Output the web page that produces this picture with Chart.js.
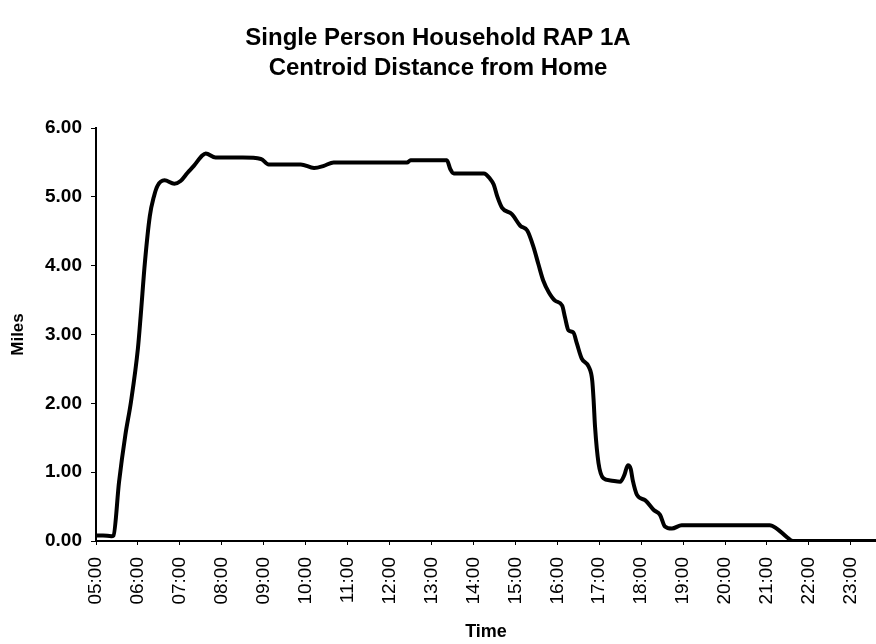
<!DOCTYPE html>
<html>
<head>
<meta charset="utf-8">
<title>Centroid Distance from Home</title>
<script src="https://cdn.jsdelivr.net/npm/chart.js@4.4.1/dist/chart.umd.min.js"></script>
<style>
    html, body { margin: 0; padding: 0; background: #fff; }
    #wrap { width: 876px; height: 644px; }
</style>
</head>
<body>
<div id="wrap"><canvas id="DistanceCanvas"></canvas></div>
<script>
// values (time of day, miles from home)
const times = [
    '05:00', '05:10', '05:22', '05:25', '05:33', '05:42', '05:50', '06:00', '06:04', '06:10',
    '06:17', '06:23', '06:28', '06:38', '06:52', '07:01', '07:11', '07:20', '07:32', '07:37',
    '07:51', '08:30', '08:56', '09:07', '09:53', '10:12', '10:26', '10:40', '12:25', '12:30',
    '13:22', '13:27', '13:32', '14:15', '14:24', '14:29', '14:34', '14:41', '14:55', '15:07',
    '15:17', '15:26', '15:33', '15:40', '15:48', '15:57', '16:07', '16:11', '16:16', '16:23',
    '16:28', '16:35', '16:45', '16:50', '16:52', '16:54', '16:59', '17:06', '17:16', '17:30',
    '17:36', '17:41', '17:45', '17:48', '17:54', '18:06', '18:18', '18:27', '18:34', '18:44',
    '18:58', '21:04', '21:14', '21:28', '21:37', '23:36'
];
const miles = [
    0.08, 0.08, 0.07, 0.08, 0.86, 1.54, 2.02, 2.80, 3.28, 4.05,
    4.72, 5.01, 5.16, 5.24, 5.19, 5.23, 5.35, 5.45, 5.60, 5.63,
    5.57, 5.57, 5.55, 5.47, 5.47, 5.42, 5.45, 5.50, 5.50, 5.53,
    5.53, 5.40, 5.34, 5.34, 5.26, 5.18, 5.01, 4.84, 4.75, 4.58,
    4.51, 4.27, 4.02, 3.78, 3.61, 3.49, 3.42, 3.25, 3.06, 3.03,
    2.87, 2.65, 2.53, 2.33, 2.04, 1.66, 1.13, 0.91, 0.88, 0.86,
    0.96, 1.10, 1.05, 0.88, 0.67, 0.59, 0.45, 0.38, 0.21, 0.18,
    0.23, 0.23, 0.18, 0.06, 0.00, 0.00
];
const hourLabels = [
    '05:00', '06:00', '07:00', '08:00', '09:00', '10:00', '11:00', '12:00', '13:00', '14:00',
    '15:00', '16:00', '17:00', '18:00', '19:00', '20:00', '21:00', '22:00', '23:00'
];
const titleLines = ['Single Person Household RAP 1A', 'Centroid Distance from Home'];

const FONT = "'Liberation Sans', Arial, Helvetica, sans-serif";

// "HH:MM" -> hours as a number
function toHours(s) {
    const parts = s.split(':');
    return Number(parts[0]) + Number(parts[1]) / 60;
}

const points = times.map((t, i) => ({ x: toHours(t), y: miles[i] }));

new Chart(document.getElementById('DistanceCanvas').getContext('2d'), {
    type: 'line',
    data: {
        datasets: [{
            label: 'Miles',
            data: points,
            borderColor: '#000',
            borderWidth: 4,
            pointRadius: 0,
            cubicInterpolationMode: 'monotone',
            fill: false
        }]
    },
    options: {
        responsive: true,
        maintainAspectRatio: false,
        animation: false,
        layout: { padding: 0 },
        plugins: {
            legend: { display: false },
            tooltip: { enabled: false },
            title: {
                display: true,
                text: titleLines,
                color: '#000',
                font: { family: FONT, size: 24, weight: 'bold', lineHeight: 1.25 },
                padding: { top: 23, bottom: 45 }
            }
        },
        scales: {
            x: {
                type: 'linear',
                min: toHours(hourLabels[0]),
                max: toHours(times[times.length - 1]),
                afterBuildTicks: scale => {
                    scale.ticks = hourLabels.map(h => ({ value: toHours(h) }));
                },
                afterFit: scale => {
                    scale.height = 103;
                    scale.paddingRight = 0;
                },
                border: { display: true, color: '#000', width: 2 },
                grid: { drawOnChartArea: false, drawTicks: true, tickLength: 4, color: '#000' },
                ticks: {
                    autoSkip: false,
                    minRotation: 90,
                    maxRotation: 90,
                    padding: 12,
                    color: '#000',
                    font: { family: FONT, size: 19 },
                    callback: (value, index) => hourLabels[index]
                },
                title: {
                    display: true,
                    text: 'Time',
                    color: '#000',
                    font: { family: FONT, size: 18, weight: 'bold', lineHeight: 1.2 },
                    padding: { top: 0, bottom: 1 }
                }
            },
            y: {
                min: 0,
                max: 6,
                afterFit: scale => { scale.width = 96; },
                border: { display: true, color: '#000', width: 2 },
                grid: { drawOnChartArea: false, drawTicks: true, tickLength: 5, color: '#000' },
                ticks: {
                    stepSize: 1,
                    padding: 9,
                    color: '#000',
                    font: { family: FONT, size: 19, weight: 'bold' },
                    callback: value => value.toFixed(2)
                },
                title: {
                    display: true,
                    text: 'Miles',
                    color: '#000',
                    font: { family: FONT, size: 17, weight: 'bold', lineHeight: 1.2 },
                    padding: { top: 8, bottom: 0 }
                }
            }
        }
    }
});
</script>
</body>
</html>
